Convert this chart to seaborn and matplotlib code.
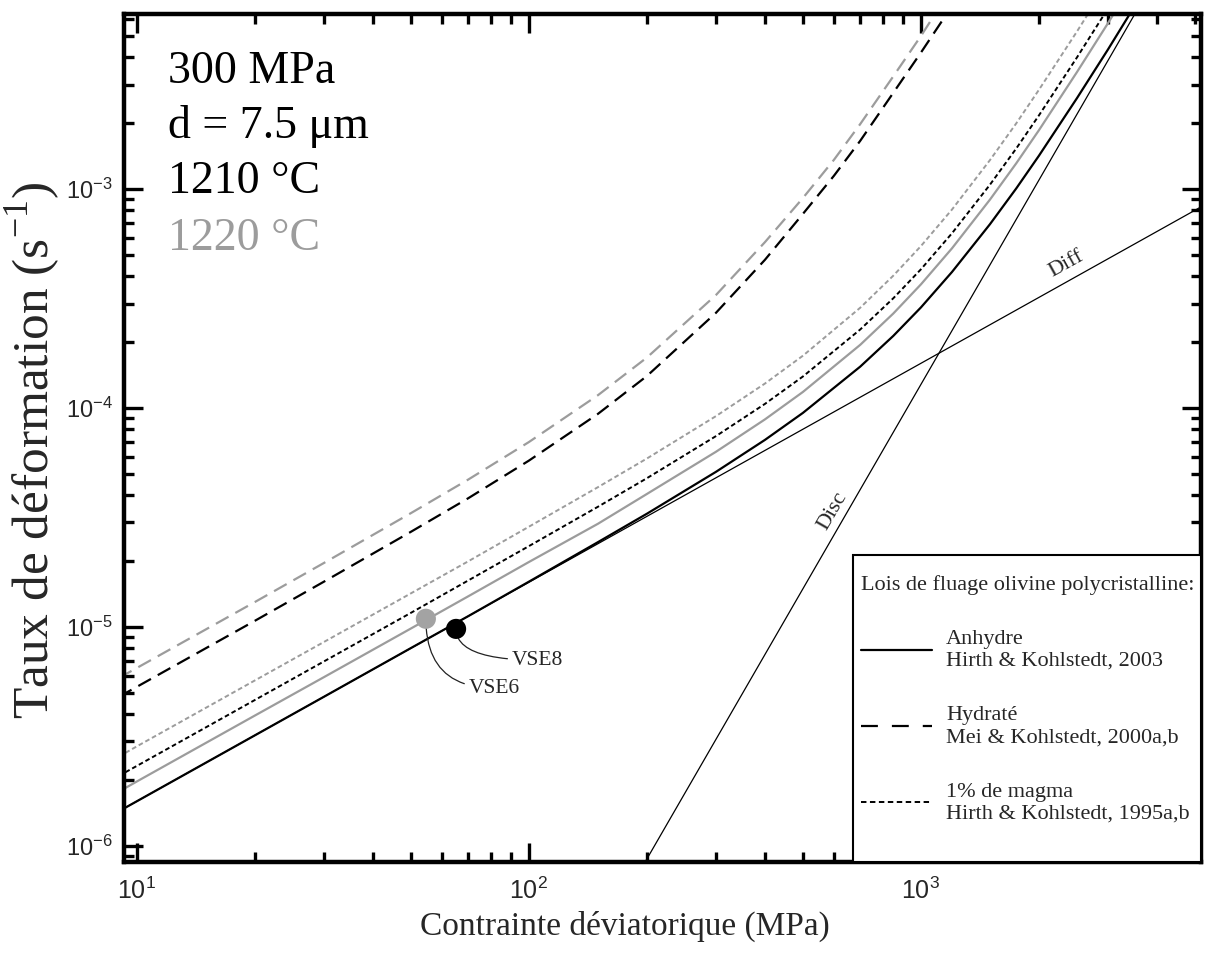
import numpy as np
import pandas as pd
import matplotlib
matplotlib.use("Agg")
import matplotlib.pyplot as plt
import seaborn as sns
from matplotlib.lines import Line2D
from matplotlib.patches import Rectangle
from matplotlib.ticker import LogLocator, NullFormatter

# ---------------- data ----------------
stress_a = [9, 10, 20, 30, 50, 70, 100, 150, 200, 300, 400, 500, 700, 850, 1000,
            1200, 1500, 1750, 2000, 2500, 3000, 3500]
anhydre_1210 = [1.44e-6, 1.6e-6, 3.2e-6, 4.8e-6, 8.01e-6, 1.12e-5, 1.61e-5, 2.44e-5,
                3.29e-5, 5.11e-5, 7.15e-5, 9.5e-5, 1.545e-4, 2.134e-4, 2.88e-4,
                4.18e-4, 6.91e-4, 1.006e-3, 1.42e-3, 2.6e-3, 4.34e-3, 6.8e-3]
anhydre_1220 = [1.77e-6, 1.97e-6, 3.94e-6, 5.9e-6, 9.84e-6, 1.38e-5, 1.98e-5, 2.96e-5,
                4.05e-5, 6.31e-5, 8.87e-5, 1.184e-4, 1.943e-4, 2.70e-4, 3.67e-4,
                5.36e-4, 8.95e-4, 1.31e-3, 1.857e-3, 3.42e-3, 5.72e-3, 8.99e-3]
magma_1210 = [2.09e-6, 2.32e-6, 4.64e-6, 6.96e-6, 1.16e-5, 1.63e-5, 2.34e-5, 3.54e-5,
              4.78e-5, 7.44e-5, 1.044e-4, 1.393e-4, 2.283e-4, 3.17e-4, 4.30e-4,
              6.28e-4, 1.047e-3, 1.531e-3, 2.17e-3, 3.99e-3, 6.68e-3, 1.05e-2]
magma_1220 = [2.56e-6, 2.85e-6, 5.7e-6, 8.54e-6, 1.424e-5, 1.994e-5, 2.87e-5, 4.35e-5,
              5.88e-5, 9.18e-5, 1.293e-4, 1.733e-4, 2.87e-4, 4.02e-4, 5.49e-4,
              8.06e-4, 1.356e-3, 1.994e-3, 2.84e-3, 5.24e-3, 8.8e-3, 1.38e-2]

stress_h = [9, 10, 20, 30, 50, 70, 100, 150, 200, 300, 400, 500, 600, 700, 850, 1000, 1200]
hydrate_1210 = [4.8e-6, 5.33e-6, 1.067e-5, 1.61e-5, 2.72e-5, 3.87e-5, 5.75e-5, 9.4e-5,
                1.40e-4, 2.72e-4, 4.75e-4, 7.7e-4, 1.15e-3, 1.66e-3, 2.75e-3,
                4.2e-3, 6.85e-3]
hydrate_1220 = [5.85e-6, 6.5e-6, 1.30e-5, 1.96e-5, 3.31e-5, 4.71e-5, 6.99e-5, 1.144e-4,
                1.70e-4, 3.28e-4, 5.72e-4, 9.1e-4, 1.36e-3, 1.98e-3, 3.27e-3,
                5.0e-3, 8.3e-3]

stress_diff = [9, 5300]
rate_diff = [1.44e-6, 8.48e-4]
stress_disc = [195, 3600]
rate_disc = [8.07e-7, 6.8e-3]

vse_names = ["VSE6", "VSE8"]
vse_stress = [54.6, 65.2]
vse_rate = [1.09e-5, 9.8e-6]
vse_label_pos = [(70.3, 5.26e-6), (90.6, 7.06e-6)]

legend_labels = ["Anhydre\nHirth & Kohlstedt, 2003",
                 "Hydraté\nMei & Kohlstedt, 2000a,b",
                 "1% de magma\nHirth & Kohlstedt, 1995a,b"]
legend_title = "Lois de fluage olivine polycristalline:"
info_lines = ["300 MPa", "d = 7.5 μm", "1210 °C", "1220 °C"]

# ---------------- styling ----------------
sns.set_theme(style="ticks")
plt.rcParams["font.family"] = ["Liberation Serif", "DejaVu Serif"]
plt.rcParams["axes.unicode_minus"] = False
GRAY = "#9c9c9c"

fig = plt.figure(figsize=(12.14, 9.57), dpi=100)
ax = fig.add_axes([0.1021, 0.0993, 0.8872, 0.8861])
ax.set_xscale("log")
ax.set_yscale("log")

long_dash = (0, (6.5, 3.5))
short_dash = (0, (2.4, 1.5))

def draw(x, y, color, lw, ls="-"):
    sns.lineplot(x=x, y=y, ax=ax, color=color, lw=lw, linestyle=ls,
                 estimator=None, sort=False, legend=False)

draw(stress_diff, rate_diff, "black", 0.9)
draw(stress_disc, rate_disc, "black", 0.9)
draw(stress_h, hydrate_1220, GRAY, 1.6, long_dash)
draw(stress_h, hydrate_1210, "black", 1.6, long_dash)
draw(stress_a, magma_1220, GRAY, 1.4, short_dash)
draw(stress_a, magma_1210, "black", 1.4, short_dash)
draw(stress_a, anhydre_1220, GRAY, 1.6)
draw(stress_a, anhydre_1210, "black", 1.6)

vse_df = pd.DataFrame({"stress": vse_stress, "rate": vse_rate, "name": vse_names})
sns.scatterplot(data=vse_df, x="stress", y="rate", hue="name",
                palette={"VSE6": "#a3a3a3", "VSE8": "black"}, s=210,
                linewidth=0, legend=False, ax=ax, zorder=6)

for name, xs, ys, (tx, ty) in zip(vse_names, vse_stress, vse_rate, vse_label_pos):
    ax.annotate(name, xy=(xs, ys), xytext=(tx, ty), ha="left", va="center",
                fontsize=15.5,
                arrowprops=dict(arrowstyle="-", color="#222222", lw=0.9,
                                shrinkA=1, shrinkB=7,
                                connectionstyle="angle3,angleA=0,angleB=-90"))

ax.text(2355, 4.55e-4, "Diff", rotation=29, ha="center", va="center", fontsize=16)
ax.text(597, 3.39e-5, "Disc", rotation=60, ha="center", va="center", fontsize=16)

info_y = [0.9186, 0.8538, 0.7889, 0.7217]
info_c = ["black", "black", "black", GRAY]
for t, yy, c in zip(info_lines, info_y, info_c):
    ax.text(0.041, yy, t, transform=ax.transAxes, fontsize=33, color=c,
            ha="left", va="baseline")

ax.set_xlim(9.27, 5180)
ax.set_ylim(8.45e-7, 6.3e-3)

ax.xaxis.set_major_locator(LogLocator(base=10, numticks=10))
ax.xaxis.set_minor_locator(LogLocator(base=10, subs=np.arange(2, 10), numticks=100))
ax.yaxis.set_major_locator(LogLocator(base=10, numticks=10))
ax.yaxis.set_minor_locator(LogLocator(base=10, subs=np.arange(2, 10), numticks=100))
ax.xaxis.set_minor_formatter(NullFormatter())
ax.yaxis.set_minor_formatter(NullFormatter())

ax.tick_params(which="both", direction="in", top=True, right=True,
               width=2.4, color="black")
ax.tick_params(which="major", length=14, labelsize=18,
               labelfontfamily="Liberation Sans")
ax.tick_params(axis="x", which="major", pad=11)
ax.tick_params(axis="y", which="major", pad=8, labelsize=17)
ax.tick_params(which="minor", length=7)
for sp in ax.spines.values():
    sp.set_linewidth(3.2)
    sp.set_color("black")

ax.set_xlabel("Contrainte déviatorique (MPa)", fontsize=24)
ax.xaxis.label.set_va("center")
ax.xaxis.set_label_coords(0.465, -0.076)
ax.set_ylabel(r"Taux de déformation (s$^{\mathdefault{-1}}$)", fontsize=37)
ax.yaxis.set_label_coords(-0.057, 0.486)

# legend box (frame spans down to the axis bottom, as in the reference)
box_x0, box_top = 0.677, 0.362
ax.add_patch(Rectangle((box_x0, 0), 1 - box_x0, box_top, transform=ax.transAxes,
                       facecolor="white", edgecolor="black", lw=1.5, zorder=7))
handles = [Line2D([], [], color="black", lw=1.6),
           Line2D([], [], color="black", lw=1.6, linestyle=(0, (7.6, 6.3))),
           Line2D([], [], color="black", lw=1.4, linestyle=(0, (2.8, 1.8)))]
leg = ax.legend(handles, legend_labels, title=legend_title, loc="upper left",
                bbox_to_anchor=(box_x0, box_top - 0.014), borderaxespad=0,
                frameon=False,
                prop={"family": "Liberation Serif", "size": 16},
                title_fontproperties={"family": "Liberation Serif", "size": 16},
                handlelength=3.2, handletextpad=0.63, labelspacing=1.6,
                borderpad=0.35, alignment="left")
leg.set_zorder(8)

fig.savefig("out.png", dpi=100)
